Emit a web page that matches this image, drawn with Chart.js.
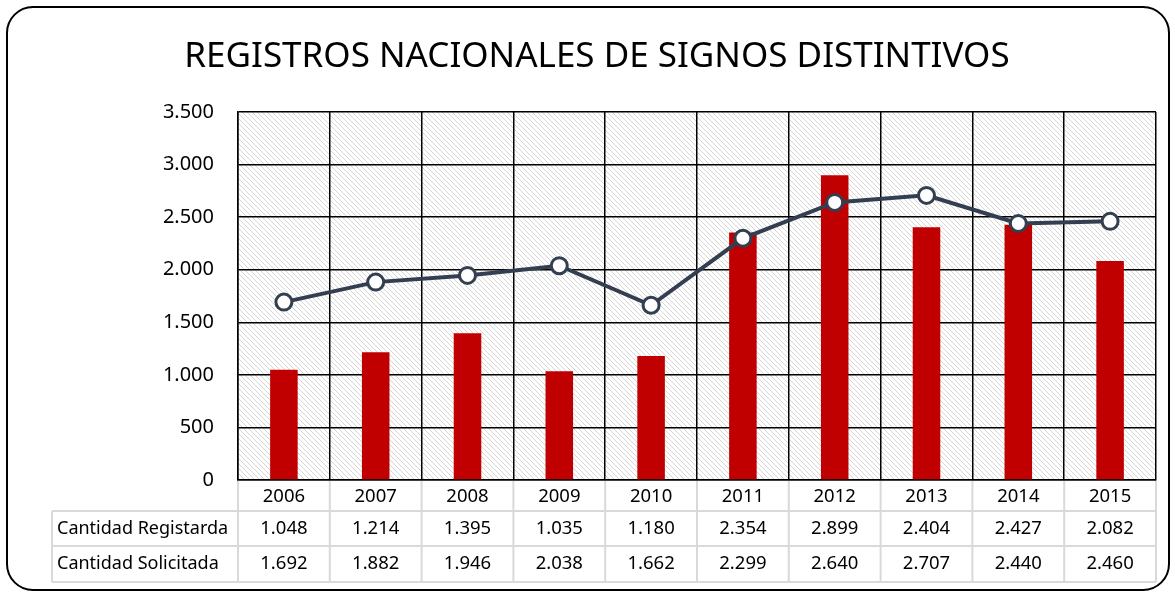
<!DOCTYPE html>
<html>
<head>
<meta charset="utf-8">
<script src="https://cdn.jsdelivr.net/npm/chart.js"></script>
<style>
  html, body { margin: 0; padding: 0; background: #fff; }
</style>
</head>
<body>
<canvas id="signosChart" width="1175" height="592"></canvas>
<script>
const years = ["2006","2007","2008","2009","2010","2011","2012","2013","2014","2015"];
const registrada = [1048,1214,1395,1035,1180,2354,2899,2404,2427,2082];
const solicitada = [1692,1882,1946,2038,1662,2299,2640,2707,2440,2460];
const rowNames = ["Cantidad Registarda","Cantidad Solicitada"];
const yMax = 3500;
const yStep = 500;

// 1.048 style numbers
function fmt(v) {
  return String(v).replace(/\B(?=(\d{3})+(?!\d))/g, ".");
}

// light diagonal hatch for the plot area
function makeHatch() {
  const c = document.createElement('canvas');
  c.width = 5; c.height = 5;
  const g = c.getContext('2d');
  g.fillStyle = '#fff';
  g.fillRect(0, 0, 5, 5);
  g.fillStyle = '#d6d6d6';
  for (let i = 0; i < 5; i++) g.fillRect(i, i, 1, 1);
  return g.createPattern(c, 'repeat');
}

const hatchBg = {
  id: 'hatchBg',
  beforeDraw(chart) {
    const {ctx, chartArea: a} = chart;
    ctx.save();
    ctx.fillStyle = makeHatch();
    ctx.fillRect(a.left, a.top, a.right - a.left, a.bottom - a.top);
    ctx.restore();
  }
};

const dataTable = {
  id: 'dataTable',
  afterDraw(chart) {
    const {ctx, chartArea: a, scales: {x}} = chart;
    const hw = (x.getPixelForValue(1) - x.getPixelForValue(0)) / 2;
    const rowY = [a.bottom, a.bottom + 31, a.bottom + 66, a.bottom + 102];
    const tableLeft = 52;
    ctx.save();
    ctx.strokeStyle = '#d9d9d9';
    ctx.lineWidth = 2;
    ctx.beginPath();
    // horizontal lines
    for (let r = 1; r < rowY.length; r++) {
      ctx.moveTo(tableLeft, rowY[r]);
      ctx.lineTo(a.right, rowY[r]);
    }
    // vertical lines
    ctx.moveTo(tableLeft, rowY[1]);
    ctx.lineTo(tableLeft, rowY[3]);
    for (let i = 0; i <= years.length; i++) {
      const px = x.getPixelForValue(0) - hw + i * 2 * hw;
      ctx.moveTo(px, a.bottom + 1);
      ctx.lineTo(px, rowY[3]);
    }
    ctx.stroke();

    ctx.fillStyle = '#000';
    ctx.textBaseline = 'middle';
    ctx.font = "18.5px 'Noto Sans'";
    ctx.textAlign = 'center';
    years.forEach((yr, i) => {
      const px = x.getPixelForValue(i);
      ctx.fillText(yr, px, (rowY[0] + rowY[1]) / 2 + 1);
      ctx.fillText(fmt(registrada[i]), px, (rowY[1] + rowY[2]) / 2);
      ctx.fillText(fmt(solicitada[i]), px, (rowY[2] + rowY[3]) / 2);
    });
    ctx.textAlign = 'left';
    ctx.font = "18px 'Noto Sans'";
    ctx.fillText(rowNames[0], tableLeft + 5, (rowY[1] + rowY[2]) / 2);
    ctx.fillText(rowNames[1], tableLeft + 5, (rowY[2] + rowY[3]) / 2);

    // outer rounded frame
    ctx.strokeStyle = '#000';
    ctx.lineWidth = 2;
    ctx.beginPath();
    ctx.roundRect(7, 7, 1162, 583, 26);
    ctx.stroke();
    ctx.restore();
  }
};

Chart.defaults.font.family = "'Noto Sans', sans-serif";
Chart.defaults.color = '#000';

new Chart("signosChart", {
  type: "bar",
  data: {
    labels: years,
    datasets: [
      {
        type: "line",
        label: rowNames[1],
        data: solicitada,
        borderColor: "#333f50",
        borderWidth: 4,
        pointRadius: 8,
        pointBorderWidth: 3,
        pointBackgroundColor: "#fff",
        pointBorderColor: "#333f50",
        fill: false,
        order: 0
      },
      {
        label: rowNames[0],
        data: registrada,
        backgroundColor: "#c00000",
        barPercentage: 0.3,
        categoryPercentage: 1,
        order: 1
      }
    ]
  },
  options: {
    responsive: false,
    animation: false,
    layout: { padding: { left: 38, right: 19, bottom: 112 } },
    plugins: {
      legend: { display: false },
      tooltip: { enabled: false },
      title: {
        display: true,
        text: "REGISTROS NACIONALES DE SIGNOS DISTINTIVOS",
        font: { size: 35, weight: 'normal' },
        color: '#000',
        padding: { top: 36, bottom: 34 }
      }
    },
    scales: {
      x: {
        offset: true,
        ticks: { display: false },
        grid: { color: '#000', lineWidth: 1.5, drawTicks: false, offset: true },
        border: { color: '#000', width: 1.5 }
      },
      y: {
        min: 0,
        max: yMax,
        afterFit(scale) { scale.width = 200; },
        ticks: {
          stepSize: yStep,
          padding: 24,
          font: { size: 20 },
          callback: v => fmt(v)
        },
        grid: { color: '#000', lineWidth: 1.5, drawTicks: false },
        border: { color: '#000', width: 1.5 }
      }
    }
  },
  plugins: [hatchBg, dataTable]
});
</script>
</body>
</html>
